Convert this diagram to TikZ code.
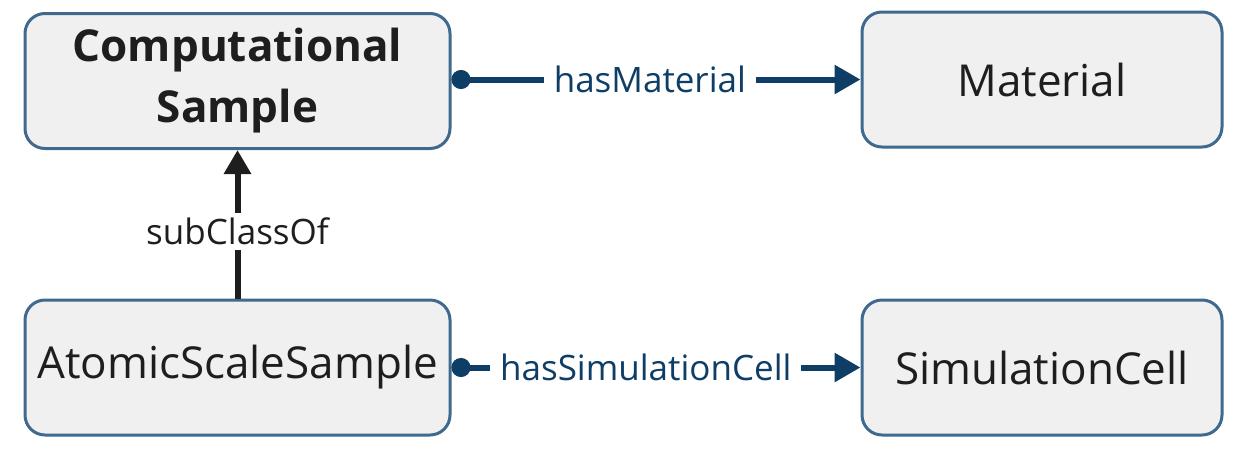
\documentclass[tikz,border=0pt]{standalone}
\usepackage{fontspec}
\setmainfont{Open Sans}
\usetikzlibrary{arrows.meta}
\definecolor{boxborder}{HTML}{3F6A8E}
\definecolor{boxfill}{HTML}{F0F0F0}
\definecolor{reldark}{HTML}{0E3E66}
\definecolor{textdark}{HTML}{1E1E1E}
\tikzset{
  cls/.style={draw=boxborder, fill=boxfill, line width=3pt, rounded corners=20pt, text=textdark, align=center, inner sep=0pt, font=\fontsize{44}{57}\selectfont},
  rel/.style={draw=reldark, line width=6pt, {Circle[length=19pt,width=19pt]}-{Triangle[length=26pt,width=28pt]}},
  rellabel/.style={fill=white, text=reldark, font=\fontsize{35}{42}\selectfont, inner xsep=10pt, inner ysep=2pt},
  sub/.style={draw=textdark, line width=6pt, -{Triangle[length=24pt,width=26pt]}},
  sublabel/.style={fill=white, text=textdark, font=\fontsize{35}{42}\selectfont, inner xsep=4pt, inner ysep=5pt},
}
\begin{document}
\begin{tikzpicture}[x=1pt,y=-1pt]
\useasboundingbox (0,0) rectangle (1244,453);
\node[cls, minimum width=425pt, minimum height=135pt, font=\fontsize{44}{61}\selectfont\bfseries] (cs) at (237.5,81) {Computational\\Sample};
\node[cls, minimum width=360pt, minimum height=135pt] (mat) at (1042,79.5) {Material};
\node[cls, minimum width=425pt, minimum height=135pt] (as) at (237.5,367.5) {AtomicScaleSample};
\node[cls, minimum width=360pt, minimum height=135pt] (sc) at (1042,367.5) {SimulationCell};
\draw[rel] (cs.east |- mat.west) -- node[rellabel, pos=0.485] {hasMaterial} (mat.west);
\draw[rel] (as.east) -- node[rellabel, pos=0.475] {hasSimulationCell} (sc.west);
\draw[sub] (as.north) -- node[sublabel, pos=0.45] {subClassOf} (cs.south);
\end{tikzpicture}
\end{document}
